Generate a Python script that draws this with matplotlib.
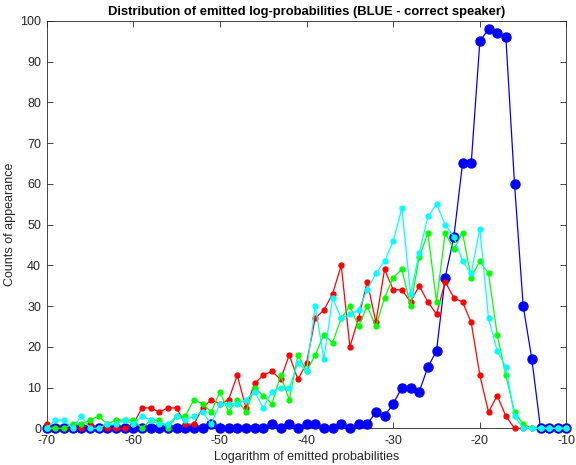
import numpy as np
import matplotlib
matplotlib.use("Agg")
import matplotlib.pyplot as plt

plt.rcParams['font.family'] = ['Liberation Sans', 'DejaVu Sans']
plt.rcParams['axes.unicode_minus'] = False

# log-probability bins
log_prob = list(range(-70, -9))

# counts per speaker model
blue_counts = [0, 0, 0, 0, 0, 0, 0, 0, 0, 0,
               0, 0, 0, 0, 0, 0, 0, 0, 0, 1,
               0, 0, 0, 0, 0, 0, 1, 0, 1, 0,
               1, 1, 0, 0, 1, 0, 1, 1, 4, 3,
               6, 10, 10, 9, 15, 19, 37, 47, 65, 65,
               95, 98, 97, 96, 60, 30, 17, 0, 0, 0, 0]
red_counts = [1, 0, 0, 0, 0, 1, 0, 0, 0, 0,
              1, 5, 5, 4, 5, 5, 1, 1, 5, 7,
              6, 7, 13, 5, 11, 13, 14, 12, 18, 12,
              16, 27, 29, 33, 40, 20, 27, 36, 26, 39,
              34, 34, 31, 35, 31, 28, 36, 32, 31, 26,
              13, 4, 8, 3, 0, 0, 0, 0, 0, 0, 0]
green_counts = [0, 0, 0, 1, 1, 2, 3, 1, 2, 2,
                2, 0, 2, 2, 0, 3, 3, 7, 6, 4,
                9, 4, 7, 4, 10, 8, 6, 13, 7, 18,
                14, 18, 23, 21, 27, 30, 25, 30, 25, 32,
                37, 39, 30, 42, 48, 31, 48, 44, 48, 37,
                41, 38, 23, 13, 4, 1, 0, 0, 0, 0, 0]
cyan_counts = [0, 2, 2, 0, 3, 0, 0, 1, 1, 2,
               1, 3, 2, 1, 1, 3, 2, 3, 4, 1,
               6, 6, 6, 7, 9, 5, 9, 10, 10, 16,
               14, 30, 17, 32, 27, 28, 29, 34, 38, 41,
               46, 54, 33, 43, 52, 55, 50, 47, 41, 38,
               49, 27, 19, 15, 3, 0, 0, 0, 0, 0, 0]

fig = plt.figure(figsize=(5.76, 4.65), dpi=100)
ax = fig.add_axes([0.081, 0.079, 0.9025, 0.876])

ax.plot(log_prob, blue_counts, '-o', color='#0000ff', mfc='#0000ff', mec='#0000ff', ms=6.5, lw=0.9, clip_on=False, zorder=3)
ax.plot(log_prob, red_counts, '-o', color='#ff0000', mfc='#ff0000', mec='#ff0000', ms=3.5, lw=0.9, clip_on=False, zorder=4)
ax.plot(log_prob, green_counts, '-o', color='#00ff00', mfc='#00ff00', mec='#00ff00', ms=3.5, lw=0.9, clip_on=False, zorder=5)
ax.plot(log_prob, cyan_counts, '-o', color='#00ffff', mfc='#00ffff', mec='#00ffff', ms=3.5, lw=0.9, clip_on=False, zorder=6)

ax.set_xlim(-70, -10)
ax.set_ylim(0, 100)
ax.set_xticks(range(-70, -9, 10))
ax.set_yticks(range(0, 101, 10))
ax.tick_params(direction='in', top=True, right=True, length=4, width=0.6,
               labelsize=9, colors='#262626')
ax.tick_params(axis='x', pad=5)
ax.tick_params(axis='y', pad=4)
for s in ax.spines.values():
    s.set_color('#262626')
    s.set_linewidth(0.6)

ax.set_title("Distribution of emitted log-probabilities (BLUE - correct speaker)",
             fontsize=9.4, fontweight='bold', pad=4)
ax.set_xlabel("Logarithm of emitted probabilities", fontsize=9, color='#262626', labelpad=3)
ax.set_ylabel("Counts of appearance", fontsize=9, color='#262626', labelpad=3)

fig.savefig("out.png", dpi=100)
